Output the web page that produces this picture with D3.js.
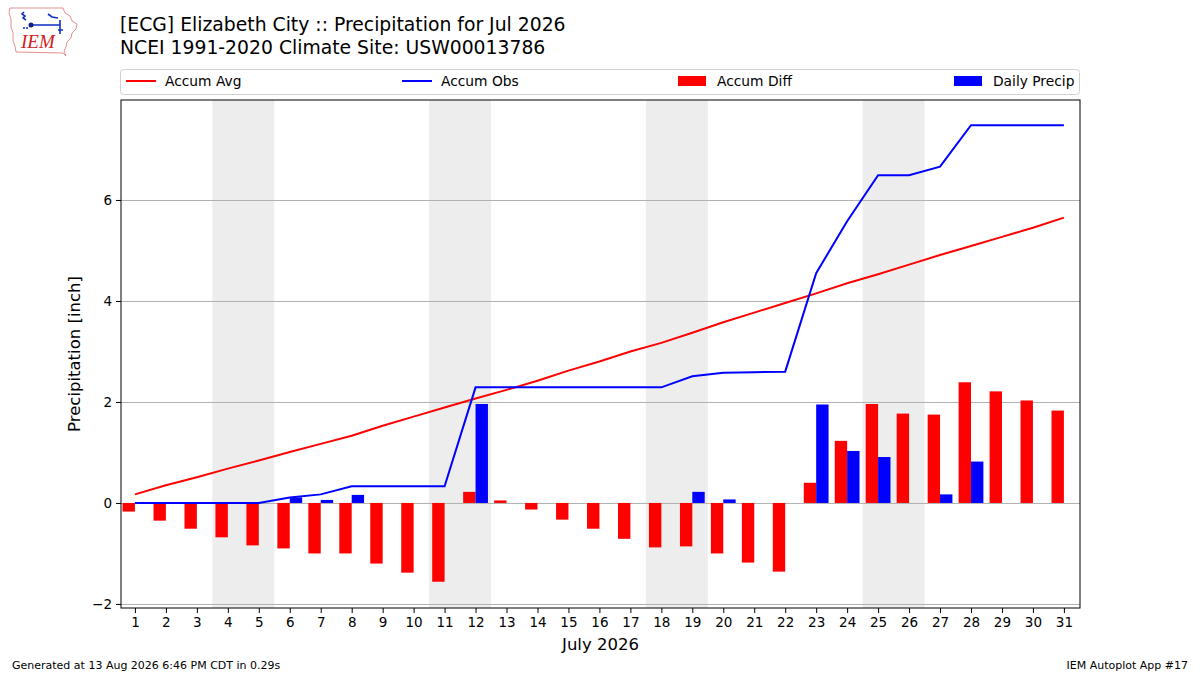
<!DOCTYPE html>
<html>
<head>
<meta charset="utf-8">
<script src="https://cdn.jsdelivr.net/npm/d3@7"></script>
<style>
  body { margin: 0; background: #fff; }
  svg { font-family: "DejaVu Sans", sans-serif; }
</style>
</head>
<body>
<svg id="chart" width="1200" height="675"></svg>
<script>
// data
const days = d3.range(1, 32);
const dailyPrecip = [0, 0, 0, 0, 0, 0.11, 0.06, 0.16, 0, 0, 0, 1.96, 0, 0, 0, 0, 0, 0, 0.22, 0.07,
  0, 0, 1.95, 1.03, 0.91, 0, 0.17, 0.82, 0, 0, 0];
const accumObs = [0, 0, 0, 0, 0, 0.11, 0.17, 0.33, 0.33, 0.33, 0.33, 2.29, 2.29, 2.29, 2.29, 2.29,
  2.29, 2.29, 2.51, 2.58, 2.59, 2.60, 4.55, 5.58, 6.49, 6.49, 6.66, 7.48, 7.48, 7.48, 7.48];
const accumAvg = [0.17, 0.35, 0.51, 0.68, 0.84, 1.01, 1.17, 1.33, 1.53, 1.71, 1.89, 2.07, 2.24, 2.42,
  2.62, 2.80, 3.00, 3.17, 3.37, 3.58, 3.77, 3.96, 4.15, 4.35, 4.53, 4.72, 4.91, 5.09, 5.27, 5.45, 5.65];
const accumDiff = [-0.17, -0.35, -0.51, -0.68, -0.84, -0.90, -1.00, -1.00, -1.20, -1.38, -1.56, 0.22,
  0.05, -0.13, -0.33, -0.51, -0.71, -0.88, -0.86, -1.00, -1.18, -1.36, 0.40, 1.23, 1.96, 1.77, 1.75,
  2.39, 2.21, 2.03, 1.83];
const weekendStarts = [4, 11, 18, 25];
const yTicks = [-2, 0, 2, 4, 6];

const svg = d3.select("#chart");
const pLeft = 121, pRight = 1080, pTop = 100, pBottom = 608;

const x = d3.scaleLinear().domain([0.55, 31.52]).range([pLeft, pRight]);
const y = d3.scaleLinear().domain([-2.08, 7.98]).range([pBottom, pTop]);
const barW = 0.4;

// weekend shading
svg.selectAll(".wk")
  .data(weekendStarts)
  .enter().append("rect")
  .attr("x", d => x(d - 0.5))
  .attr("y", pTop)
  .attr("width", d => x(d + 1.5) - x(d - 0.5))
  .attr("height", pBottom - pTop)
  .attr("fill", "#ededed");

// grid
svg.append("g")
  .attr("transform", `translate(${pLeft},0)`)
  .call(d3.axisLeft(y).tickValues(yTicks).tickSize(-(pRight - pLeft)).tickFormat(""))
  .call(g => g.select(".domain").remove())
  .selectAll("line").attr("stroke", "#b0b0b0").attr("stroke-width", 1);

// diff bars
svg.selectAll(".diff")
  .data(days)
  .enter().append("rect")
  .attr("x", d => x(d - barW))
  .attr("width", x(barW) - x(0))
  .attr("y", (d, i) => y(Math.max(0, accumDiff[i])))
  .attr("height", (d, i) => Math.abs(y(accumDiff[i]) - y(0)))
  .attr("fill", "#ff0000");

// daily precip bars
svg.selectAll(".daily")
  .data(days)
  .enter().append("rect")
  .attr("x", d => x(d))
  .attr("width", x(barW) - x(0))
  .attr("y", (d, i) => y(dailyPrecip[i]))
  .attr("height", (d, i) => y(0) - y(dailyPrecip[i]))
  .attr("fill", "#0000ff");

const line = arr => d3.line().x(d => x(d)).y((d, i) => y(arr[i]))(days);

svg.append("path").attr("d", line(accumAvg))
  .attr("fill", "none").attr("stroke", "#ff0000").attr("stroke-width", 2);
svg.append("path").attr("d", line(accumObs))
  .attr("fill", "none").attr("stroke", "#0000ff").attr("stroke-width", 2);

// frame
svg.append("rect")
  .attr("x", pLeft).attr("y", pTop)
  .attr("width", pRight - pLeft).attr("height", pBottom - pTop)
  .attr("fill", "none").attr("stroke", "#000").attr("stroke-width", 1);

// axes
const xAxis = svg.append("g")
  .attr("transform", `translate(0,${pBottom})`)
  .call(d3.axisBottom(x).tickValues(days).tickSize(5).tickPadding(4).tickFormat(d3.format("d")));
const yAxis = svg.append("g")
  .attr("transform", `translate(${pLeft},0)`)
  .call(d3.axisLeft(y).tickValues(yTicks).tickSize(5).tickPadding(4)
    .tickFormat(d => d < 0 ? "\u2212" + Math.abs(d) : d));
[xAxis, yAxis].forEach(a => {
  a.select(".domain").remove();
  a.selectAll("text").attr("font-size", 13.5).attr("fill", "#000").attr("font-family", "DejaVu Sans");
  a.selectAll("line").attr("stroke", "#000");
});

svg.append("text")
  .attr("x", (pLeft + pRight) / 2).attr("y", 650)
  .attr("text-anchor", "middle").attr("font-size", 16.5)
  .text("July 2026");

svg.append("text")
  .attr("transform", `translate(80,${(pTop + pBottom) / 2}) rotate(-90)`)
  .attr("text-anchor", "middle").attr("font-size", 16.5)
  .text("Precipitation [inch]");

// titles
svg.append("text").attr("x", 120).attr("y", 31).attr("font-size", 18.8)
  .text("[ECG] Elizabeth City :: Precipitation for Jul 2026");
svg.append("text").attr("x", 120).attr("y", 54).attr("font-size", 18.8)
  .text("NCEI 1991-2020 Climate Site: USW00013786");

// legend
svg.append("rect")
  .attr("x", 120.5).attr("y", 69.5).attr("width", 959).attr("height", 25)
  .attr("rx", 3).attr("fill", "#fff").attr("stroke", "#d0d0d0");
const legendItems = [
  { label: "Accum Avg", color: "#ff0000", type: "line" },
  { label: "Accum Obs", color: "#0000ff", type: "line" },
  { label: "Accum Diff", color: "#ff0000", type: "bar" },
  { label: "Daily Precip", color: "#0000ff", type: "bar" }
];
const lg = svg.selectAll(".lg").data(legendItems).enter().append("g")
  .attr("transform", (d, i) => `translate(${126 + i * 276},81)`);
lg.filter(d => d.type === "line").append("line")
  .attr("x1", 0).attr("x2", 30).attr("stroke", d => d.color).attr("stroke-width", 2);
lg.filter(d => d.type === "bar").append("rect")
  .attr("x", 0).attr("y", -5).attr("width", 28).attr("height", 10).attr("fill", d => d.color);
lg.append("text").attr("x", 39).attr("y", 5).attr("font-size", 13.8).text(d => d.label);

// footer
svg.append("text").attr("x", 12).attr("y", 669).attr("font-size", 11)
  .text("Generated at 13 Aug 2026 6:46 PM CDT in 0.29s");
svg.append("text").attr("x", 1188).attr("y", 669).attr("font-size", 11).attr("text-anchor", "end")
  .text("IEM Autoplot App #17");

// IEM logo (rough)
const logo = svg.append("g");
logo.append("path")
  .attr("d", "M10,8 L63,8 L65,13 L70,16 L72,21 L77,24 L76,29 L72,33 L71,38 L67,42 L66,47 L64,51 L66,56 L63,53 L16,52 L15,46 L13,41 L13,33 L11,27 L11,19 L9,13 Z")
  .attr("fill", "none").attr("stroke", "#e89090").attr("stroke-width", 1);
logo.append("path")
  .attr("d", "M24,12 L22,14 L25,16 L23,18 L26,20 M31,25 L60,25 M60,20 L60,34 M58,30 L63,30 M48,14 L52,17 L58,18")
  .attr("fill", "none").attr("stroke", "#1030c0").attr("stroke-width", 1.6);
logo.append("circle").attr("cx", 31).attr("cy", 25).attr("r", 2.5).attr("fill", "#102080");
logo.append("circle").attr("cx", 24).attr("cy", 28).attr("r", 1).attr("fill", "#1030c0");
logo.append("circle").attr("cx", 27).attr("cy", 28).attr("r", 1).attr("fill", "#1030c0");
logo.append("text").attr("x", 21).attr("y", 48)
  .attr("font-family", "Liberation Serif, serif").attr("font-style", "italic")
  .attr("font-size", 19).attr("fill", "#d02020").text("IEM");
</script>
</body>
</html>
